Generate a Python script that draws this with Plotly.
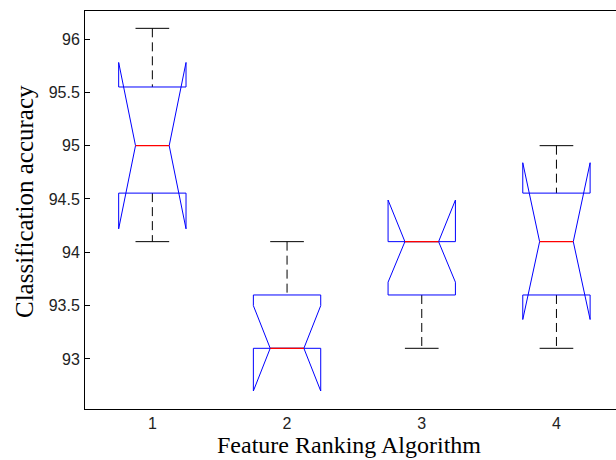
import plotly.graph_objects as go

# ---- data ----
groups = [1, 2, 3, 4]
group_labels = ["1", "2", "3", "4"]
whisker_low = [94.10, 93.10, 93.10, 93.10]
q1 = [94.555, 93.10, 93.60, 93.60]
median = [95.00, 93.10, 94.10, 94.10]
q3 = [95.55, 93.60, 94.10, 94.555]
whisker_high = [96.10, 94.10, 94.10, 95.00]
notch_low = [94.22, 92.70, 93.72, 93.37]
notch_high = [95.78, 93.50, 94.49, 94.84]
y_tick_vals = [93.0, 93.5, 94.0, 94.5, 95.0, 95.5, 96.0]
y_tick_text = ["93", "93.5", "94", "94.5", "95", "95.5", "96"]

# ---- styles ----
BOX_HALF = 0.25
NOTCH_HALF = 0.125
CAP_HALF = 0.125
BLUE = "#0000FF"
RED = "#FF0000"
BLACK = "#000000"
DASH = "9px,5px"

fig = go.Figure()

for i, g in enumerate(groups):
    # whiskers (dashed) and caps
    fig.add_trace(go.Scatter(x=[g, g], y=[whisker_high[i], q3[i]], mode="lines",
                             line=dict(color=BLACK, width=1, dash=DASH), hoverinfo="skip"))
    fig.add_trace(go.Scatter(x=[g, g], y=[q1[i], whisker_low[i]], mode="lines",
                             line=dict(color=BLACK, width=1, dash=DASH), hoverinfo="skip"))
    for v in (whisker_high[i], whisker_low[i]):
        fig.add_trace(go.Scatter(x=[g - CAP_HALF, g + CAP_HALF], y=[v, v], mode="lines",
                                 line=dict(color=BLACK, width=1), hoverinfo="skip"))

for i, g in enumerate(groups):
    L, R = g - BOX_HALF, g + BOX_HALF
    nl, nr = g - NOTCH_HALF, g + NOTCH_HALF
    bx = [L, L, nl, L, L, R, R, nr, R, R, L]
    by = [q1[i], notch_low[i], median[i], notch_high[i], q3[i], q3[i],
          notch_high[i], median[i], notch_low[i], q1[i], q1[i]]
    fig.add_trace(go.Scatter(x=bx, y=by, mode="lines",
                             line=dict(color=BLUE, width=1), hoverinfo="skip"))

for i, g in enumerate(groups):
    nl, nr = g - NOTCH_HALF, g + NOTCH_HALF
    fig.add_trace(go.Scatter(x=[nl, nr], y=[median[i], median[i]], mode="lines",
                             line=dict(color=RED, width=1.2), hoverinfo="skip"))

W, H = 616, 460
ML, MR, MT, MB = 85, 0, 11, 51
PW = W - ML - MR
PH = H - MT - MB

def px_x(p):
    return (p - ML) / PW

def px_y(p):
    return (H - MB - p) / PH

fig.update_layout(
    width=W, height=H,
    margin=dict(l=ML, r=MR, t=MT, b=MB, pad=0),
    paper_bgcolor="white", plot_bgcolor="white",
    showlegend=False,
    font=dict(family="Liberation Sans, Arial, sans-serif", size=16, color="#222222"),
    xaxis=dict(range=[0.5, 0.5 + PW / 134.7], tickvals=groups, ticktext=group_labels,
               showgrid=False, zeroline=False, showline=True, linecolor=BLACK,
               linewidth=1, mirror=True, ticks="", ticklabelstandoff=0),
    yaxis=dict(range=[92.531, 96.2625], tickvals=y_tick_vals, ticktext=y_tick_text,
               showgrid=False, zeroline=False, showline=True, linecolor=BLACK,
               linewidth=1, mirror=False, ticks="inside", ticklen=5, tickwidth=1,
               tickcolor=BLACK, ticklabelstandoff=1),
    annotations=[
        dict(text="Feature Ranking Algorithm", xref="paper", yref="paper",
             x=px_x(349), y=px_y(445), xanchor="center", yanchor="middle",
             showarrow=False,
             font=dict(family="Liberation Serif, Times New Roman, serif", size=24, color="#000000")),
        dict(text="Classification accuracy", xref="paper", yref="paper",
             x=px_x(24), y=px_y(202), xanchor="center", yanchor="middle",
             textangle=-90, showarrow=False,
             font=dict(family="Liberation Serif, Times New Roman, serif", size=25, color="#000000")),
    ],
)

fig.write_html("out.html")
